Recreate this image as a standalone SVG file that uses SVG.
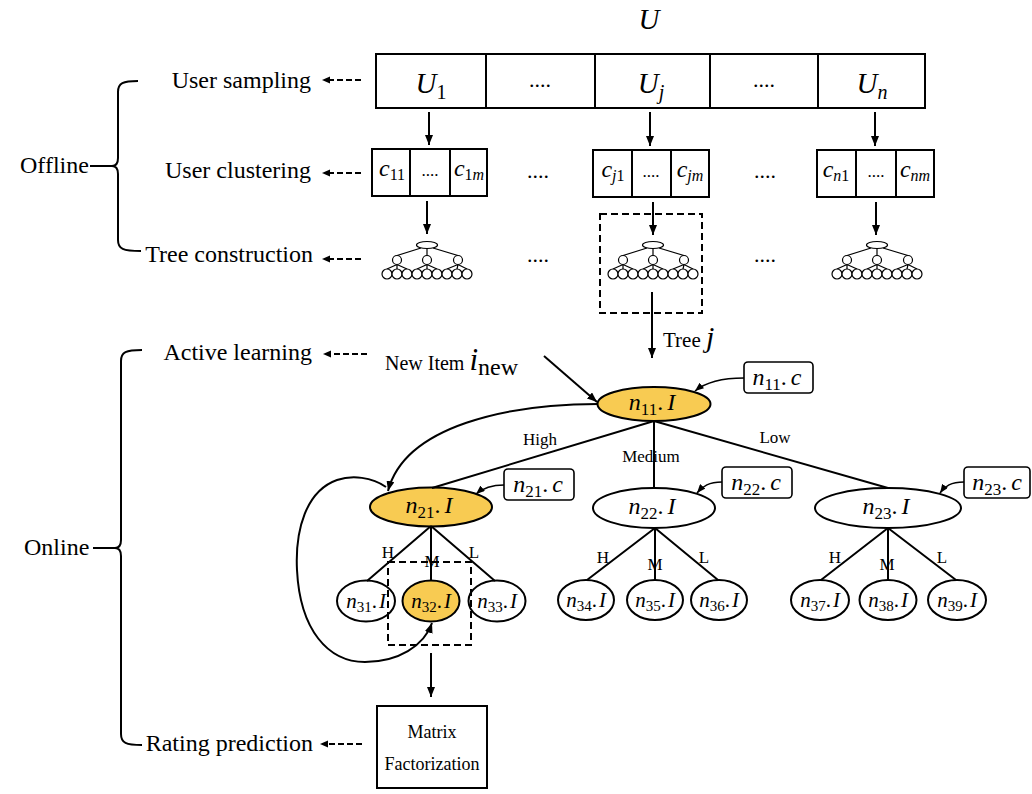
<svg xmlns="http://www.w3.org/2000/svg" xmlns:xlink="http://www.w3.org/1999/xlink" width="1032" height="794" viewBox="0 0 1032 794">
<style>
  text { font-family: "Liberation Serif", "DejaVu Serif", serif; fill: #000; }
  .lbl { font-size: 24px; text-anchor: end; }
  .it { font-style: italic; }
  .mid { text-anchor: middle; }
  .ln { fill: none; stroke: #000; stroke-width: 2; }
  .box { fill: #fff; stroke: #000; stroke-width: 2; }
  .node { fill: #fff; stroke: #000; stroke-width: 2; }
  .hot { fill: #F8CB52; stroke: #000; stroke-width: 2; }
  .dash { fill: none; stroke: #000; stroke-width: 2; stroke-dasharray: 7,4; }
  .dsh { fill: none; stroke: #000; stroke-width: 2.2; stroke-dasharray: 6,3; }
  .arr { fill: none; stroke: #000; stroke-width: 2; marker-end: url(#ah); }
  .arr2 { fill: none; stroke: #000; stroke-width: 1.6; marker-end: url(#ah2); }
  .cbox { fill: #fff; stroke: #000; stroke-width: 1.6; }
  .edge { fill: none; stroke: #000; stroke-width: 2; }
  .small { font-size: 17px; }
</style>
<defs>
  <marker id="ah" viewBox="0 0 10 8" refX="10" refY="4" markerWidth="10" markerHeight="8" markerUnits="userSpaceOnUse" orient="auto">
    <path d="M0,0 L10,4 L0,8 z" fill="#000"/>
  </marker>
  <marker id="ah2" viewBox="0 0 10 8" refX="10" refY="4" markerWidth="9" markerHeight="7" markerUnits="userSpaceOnUse" orient="auto">
    <path d="M0,0 L10,4 L0,8 z" fill="#000"/>
  </marker>
  <g id="minitree" fill="#fff" stroke="#000" stroke-width="1.2">
    <path d="M-6,3 L-30,10.5 M0,3.5 L0,10.5 M6,3 L31,10.5" fill="none"/>
    <path d="M-30,19.5 L-40,24 M-30,19.5 L-30,24 M-30,19.5 L-20,24 M0,19.5 L-10,24 M0,19.5 L0,24 M0,19.5 L10,24 M31,19.5 L20,24 M31,19.5 L30,24 M31,19.5 L40,24" fill="none"/>
    <ellipse cx="0" cy="0" rx="10.5" ry="3.5"/>
    <circle cx="-30" cy="15" r="4.5"/>
    <circle cx="0" cy="15" r="4.5"/>
    <circle cx="31" cy="15" r="4.5"/>
    <circle cx="-40" cy="29" r="5"/>
    <circle cx="-30" cy="29" r="5"/>
    <circle cx="-20" cy="29" r="5"/>
    <circle cx="-10" cy="29" r="5"/>
    <circle cx="0" cy="29" r="5"/>
    <circle cx="10" cy="29" r="5"/>
    <circle cx="20" cy="29" r="5"/>
    <circle cx="30" cy="29" r="5"/>
    <circle cx="40" cy="29" r="5"/>
  </g>
</defs>
<rect width="1032" height="794" fill="#fff"/>

<!-- stage labels and braces -->
<g id="stages">
  <text x="20" y="173" font-size="24">Offline</text>
  <text x="24" y="555" font-size="24">Online</text>
  <path class="ln" d="M90,166 L112,166 M138,81 C123,81 118,83 118,92 L118,158 C118,164 116,166 112,166 C116,166 118,168 118,174 L118,240 C118,249 123,251 141,251"/>
  <path class="ln" d="M93,548 L115,548 M142,350 C126,350 121,352 121,361 L121,540 C121,546 119,548 115,548 C119,548 121,550 121,556 L121,734 C121,743 126,745 142,745"/>
  <text class="lbl" x="311" y="88">User sampling</text>
  <text class="lbl" x="311" y="178">User clustering</text>
  <text class="lbl" x="313" y="262">Tree construction</text>
  <text class="lbl" x="312" y="360">Active learning</text>
  <text class="lbl" x="313" y="751">Rating prediction</text>
</g>

<!-- top user bar -->
<g id="U-title"><text class="it mid" x="649" y="29" font-size="29">U</text></g>
<g id="user-bar">
  <rect class="box" x="376" y="54" width="549" height="54"/>
  <path class="ln" d="M486,54 V108 M595,54 V108 M710,54 V108 M818,54 V108"/>
  <text class="mid" x="431" y="93"><tspan class="it" font-size="29">U</tspan><tspan font-size="20" dy="6">1</tspan></text>
  <text class="mid" x="540" y="87" font-size="22">....</text>
  <text class="mid" x="651" y="93"><tspan class="it" font-size="29">U</tspan><tspan class="it" font-size="20" dy="6">j</tspan></text>
  <text class="mid" x="764" y="87" font-size="22">....</text>
  <text class="mid" x="872" y="93"><tspan class="it" font-size="29">U</tspan><tspan class="it" font-size="20" dy="6">n</tspan></text>
</g>

<!-- cluster boxes -->
<g id="clusters-1">
  <rect class="box" x="372" y="149" width="115" height="47"/>
  <path class="ln" d="M410,149 V196 M450,149 V196"/>
  <text class="mid" x="392" y="176"><tspan class="it" font-size="24">c</tspan><tspan font-size="16" dy="4">11</tspan></text>
  <text class="mid" x="430" y="176" font-size="17">....</text>
  <text class="mid" x="469" y="176"><tspan class="it" font-size="24">c</tspan><tspan font-size="16" dy="4">1</tspan><tspan class="it" font-size="16">m</tspan></text>
</g>
<g id="clusters-j">
  <rect class="box" x="593" y="150" width="116" height="47"/>
  <path class="ln" d="M632,150 V197 M671,150 V197"/>
  <text class="mid" x="613" y="177"><tspan class="it" font-size="24">c</tspan><tspan class="it" font-size="16" dy="4">j</tspan><tspan font-size="16">1</tspan></text>
  <text class="mid" x="651" y="177" font-size="17">....</text>
  <text class="mid" x="690" y="177"><tspan class="it" font-size="24">c</tspan><tspan class="it" font-size="16" dy="4">jm</tspan></text>
</g>
<g id="clusters-n">
  <rect class="box" x="817" y="150" width="117" height="47"/>
  <path class="ln" d="M856,150 V197 M896,150 V197"/>
  <text class="mid" x="836" y="177"><tspan class="it" font-size="24">c</tspan><tspan class="it" font-size="16" dy="4">n</tspan><tspan font-size="16">1</tspan></text>
  <text class="mid" x="876" y="177" font-size="17">....</text>
  <text class="mid" x="915" y="177"><tspan class="it" font-size="24">c</tspan><tspan class="it" font-size="16" dy="4">nm</tspan></text>
</g>
<g id="ellipsis-dots">
  <text class="mid" x="538" y="178" font-size="22">....</text>
  <text class="mid" x="765" y="178" font-size="22">....</text>
  <text class="mid" x="538" y="262" font-size="22">....</text>
  <text class="mid" x="765" y="262" font-size="22">....</text>
</g>

<!-- mini trees -->
<g id="tree-1"><use xlink:href="#minitree" href="#minitree" x="427" y="245"/></g>
<g id="tree-j"><use xlink:href="#minitree" href="#minitree" x="653" y="245"/>
  <rect class="dash" x="600" y="214" width="102" height="99"/>
</g>
<g id="tree-n"><use xlink:href="#minitree" href="#minitree" x="877" y="245"/></g>

<!-- New item / tree j labels -->
<g id="new-item">
  <text x="385" y="370" font-size="20">New Item <tspan class="it" font-size="31">i</tspan><tspan font-size="24" dy="5">new</tspan></text>
</g>
<g id="tree-j-label">
  <text x="663" y="347" font-size="21">Tree <tspan class="it" font-size="30">j</tspan></text>
</g>

<!-- tree nodes -->
<g id="n11"><ellipse class="hot" cx="654" cy="404" rx="56.5" ry="17"/>
  <text class="mid" x="652" y="410"><tspan class="it" font-size="24">n</tspan><tspan font-size="17" dy="5">11</tspan><tspan font-size="24" dy="-5">.</tspan><tspan class="it" font-size="24" dx="4">I</tspan></text></g>
<g id="n11c"><rect class="cbox" x="744" y="362" width="69" height="31" rx="4"/>
  <text class="mid" x="777" y="385"><tspan class="it" font-size="24">n</tspan><tspan font-size="17" dy="5">11</tspan><tspan font-size="24" dy="-5">.</tspan><tspan class="it" font-size="24" dx="4">c</tspan></text></g>

<g id="n21"><ellipse class="hot" cx="431" cy="507" rx="61" ry="19.5"/>
  <text class="mid" x="429" y="513"><tspan class="it" font-size="24">n</tspan><tspan font-size="17" dy="5">21</tspan><tspan font-size="24" dy="-5">.</tspan><tspan class="it" font-size="24" dx="4">I</tspan></text></g>
<g id="n21c"><rect class="cbox" x="504" y="469" width="70" height="31" rx="4"/>
  <text class="mid" x="538" y="492"><tspan class="it" font-size="24">n</tspan><tspan font-size="17" dy="5">21</tspan><tspan font-size="24" dy="-5">.</tspan><tspan class="it" font-size="24" dx="4">c</tspan></text></g>

<g id="n22"><ellipse class="node" cx="654" cy="508" rx="61" ry="20"/>
  <text class="mid" x="652" y="514"><tspan class="it" font-size="24">n</tspan><tspan font-size="17" dy="5">22</tspan><tspan font-size="24" dy="-5">.</tspan><tspan class="it" font-size="24" dx="4">I</tspan></text></g>
<g id="n22c"><rect class="cbox" x="722" y="467" width="70" height="31" rx="4"/>
  <text class="mid" x="756" y="490"><tspan class="it" font-size="24">n</tspan><tspan font-size="17" dy="5">22</tspan><tspan font-size="24" dy="-5">.</tspan><tspan class="it" font-size="24" dx="4">c</tspan></text></g>

<g id="n23"><ellipse class="node" cx="888" cy="508" rx="73" ry="20"/>
  <text class="mid" x="886" y="514"><tspan class="it" font-size="24">n</tspan><tspan font-size="17" dy="5">23</tspan><tspan font-size="24" dy="-5">.</tspan><tspan class="it" font-size="24" dx="4">I</tspan></text></g>
<g id="n23c"><rect class="cbox" x="964" y="467" width="66" height="31" rx="4"/>
  <text class="mid" x="997" y="490"><tspan class="it" font-size="24">n</tspan><tspan font-size="17" dy="5">23</tspan><tspan font-size="24" dy="-5">.</tspan><tspan class="it" font-size="24" dx="4">c</tspan></text></g>

<g id="n31"><ellipse class="node" cx="366" cy="601" rx="29" ry="20.5"/>
  <text class="mid" x="366" y="608"><tspan class="it" font-size="21">n</tspan><tspan font-size="15" dy="4">31</tspan><tspan font-size="21" dy="-4">.</tspan><tspan class="it" font-size="21" dx="2">I</tspan></text></g>
<g id="n32"><ellipse class="hot" cx="431" cy="601" rx="28.5" ry="20.5"/>
  <text class="mid" x="431" y="608"><tspan class="it" font-size="21">n</tspan><tspan font-size="15" dy="4">32</tspan><tspan font-size="21" dy="-4">.</tspan><tspan class="it" font-size="21" dx="2">I</tspan></text></g>
<g id="n33"><ellipse class="node" cx="497" cy="601" rx="28.5" ry="20.5"/>
  <text class="mid" x="497" y="608"><tspan class="it" font-size="21">n</tspan><tspan font-size="15" dy="4">33</tspan><tspan font-size="21" dy="-4">.</tspan><tspan class="it" font-size="21" dx="2">I</tspan></text></g>
<g id="n34"><ellipse class="node" cx="586" cy="600" rx="28" ry="20"/>
  <text class="mid" x="586" y="607"><tspan class="it" font-size="21">n</tspan><tspan font-size="15" dy="4">34</tspan><tspan font-size="21" dy="-4">.</tspan><tspan class="it" font-size="21" dx="2">I</tspan></text></g>
<g id="n35"><ellipse class="node" cx="655" cy="600" rx="28" ry="20"/>
  <text class="mid" x="655" y="607"><tspan class="it" font-size="21">n</tspan><tspan font-size="15" dy="4">35</tspan><tspan font-size="21" dy="-4">.</tspan><tspan class="it" font-size="21" dx="2">I</tspan></text></g>
<g id="n36"><ellipse class="node" cx="719" cy="600" rx="28" ry="20"/>
  <text class="mid" x="719" y="607"><tspan class="it" font-size="21">n</tspan><tspan font-size="15" dy="4">36</tspan><tspan font-size="21" dy="-4">.</tspan><tspan class="it" font-size="21" dx="2">I</tspan></text></g>
<g id="n37"><ellipse class="node" cx="820" cy="600" rx="29" ry="20"/>
  <text class="mid" x="820" y="607"><tspan class="it" font-size="21">n</tspan><tspan font-size="15" dy="4">37</tspan><tspan font-size="21" dy="-4">.</tspan><tspan class="it" font-size="21" dx="2">I</tspan></text></g>
<g id="n38"><ellipse class="node" cx="888" cy="600" rx="28.5" ry="20"/>
  <text class="mid" x="888" y="607"><tspan class="it" font-size="21">n</tspan><tspan font-size="15" dy="4">38</tspan><tspan font-size="21" dy="-4">.</tspan><tspan class="it" font-size="21" dx="2">I</tspan></text></g>
<g id="n39"><ellipse class="node" cx="957" cy="600" rx="29" ry="20"/>
  <text class="mid" x="957" y="607"><tspan class="it" font-size="21">n</tspan><tspan font-size="15" dy="4">39</tspan><tspan font-size="21" dy="-4">.</tspan><tspan class="it" font-size="21" dx="2">I</tspan></text></g>

<g id="n32-box"><rect class="dash" x="388" y="562" width="83" height="83"/></g>

<g id="matrix-factorization">
  <rect class="box" x="377" y="706" width="110" height="82"/>
  <text class="mid" x="432" y="738" font-size="18">Matrix</text>
  <text class="mid" x="432" y="770" font-size="18">Factorization</text>
</g>

<!-- connectors -->
<g id="connectors">
  <path class="dsh" d="M361,80 L328,80"/><path d="M322,80 L330,76.5 L330,83.5 z"/>
  <path class="dsh" d="M361,173 L328,173"/><path d="M322,173 L330,169.5 L330,176.5 z"/>
  <path class="dsh" d="M361,259 L328,259"/><path d="M322,259 L330,255.5 L330,262.5 z"/>
  <path class="dsh" d="M367,354 L330,354"/><path d="M323,354 L331,350.5 L331,357.5 z"/>
  <path class="dsh" d="M362,744 L327,744"/><path d="M320,744 L328,740.5 L328,747.5 z"/>

  <path class="arr" d="M429,112 L429,145"/>
  <path class="arr" d="M650,112 L650,146"/>
  <path class="arr" d="M875,112 L875,146"/>
  <path class="arr" d="M427,201 L427,234"/>
  <path class="arr" d="M653,202 L653,235"/>
  <path class="arr" d="M876,202 L876,235"/>
  <path class="arr" d="M652,292 L652,358"/>
  <path class="arr" d="M544,356 L597,402"/>
  <path class="arr" d="M431,653 L431,697"/>

  <path class="edge" d="M654,421 L432,488 M654,421 L654,488 M654,421 L888,488"/>
  <path class="edge" d="M431,526 L367,581 M431,526 L431,581 M431,526 L495,581"/>
  <path class="edge" d="M655,528 L587,580 M655,528 L655,580 M655,528 L718,580"/>
  <path class="edge" d="M888,528 L821,580 M888,528 L888,580 M888,528 L956,580"/>

  <path class="arr" d="M598,404 C510,404 405,425 388,491"/>
  <path class="arr" d="M386,487 C372,477 352,475 337,480 C306,491 295,530 297,570 C300,630 328,662 365,662 C398,662 424,646 432,623"/>

  <path class="arr2" d="M744,378 C722,378 706,382 695,391"/>
  <path class="arr2" d="M504,485 C491,485 483,488 476,494"/>
  <path class="arr2" d="M722,482 C709,482 703,486 697,493"/>
  <path class="arr2" d="M964,482 C951,482 945,486 940,493"/>

  <text class="mid small" x="540" y="445">High</text>
  <text class="mid small" x="651" y="462">Medium</text>
  <text class="mid small" x="775" y="443">Low</text>
  <text class="mid small" x="388" y="558">H</text>
  <text class="mid small" x="432" y="567">M</text>
  <text class="mid small" x="474" y="558">L</text>
  <text class="mid small" x="603" y="563">H</text>
  <text class="mid small" x="655" y="570">M</text>
  <text class="mid small" x="704" y="563">L</text>
  <text class="mid small" x="835" y="563">H</text>
  <text class="mid small" x="887" y="570">M</text>
  <text class="mid small" x="942" y="563">L</text>
</g>
</svg>
